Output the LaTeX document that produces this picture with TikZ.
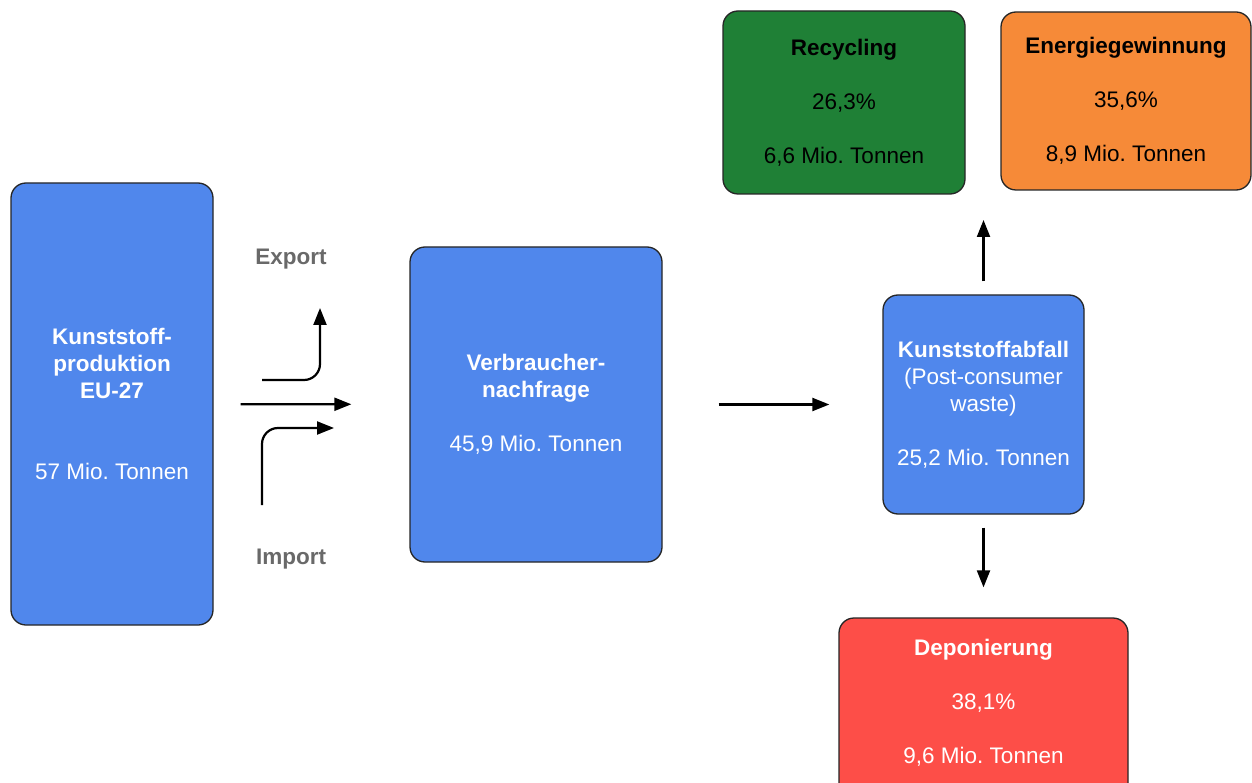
\documentclass[tikz,border=0pt]{standalone}
\usepackage{fontspec}
\setmainfont{Liberation Sans}
\usetikzlibrary{arrows.meta}

\definecolor{prodblue}{RGB}{80,135,236}
\definecolor{recgreen}{RGB}{31,128,54}
\definecolor{energyorange}{RGB}{246,138,56}
\definecolor{landfillred}{RGB}{253,78,72}
\definecolor{labelgray}{RGB}{105,105,105}

\begin{document}
\begin{tikzpicture}[x=1pt,y=-1pt,
  box/.style={draw=black!85, line width=1.3pt, rounded corners=15pt, align=center,
    inner sep=0pt, font=\fontsize{22.5}{27}\selectfont\frenchspacing},
  flow/.style={draw=black, line width=2.2pt, -{Triangle[length=17pt,width=13pt]}},
  tag/.style={text=labelgray, font=\fontsize{22.5}{27}\selectfont\bfseries}]

%frame
\path[use as bounding box, fill=white] (0,0) rectangle (1252,783);

%boxes
\node[box, fill=prodblue, text=white, minimum width=202, minimum height=442] (prod) at (112,404)
  {\textbf{Kunststoff-}\\\textbf{produktion}\\\textbf{EU-27}\\[54pt]57 Mio. Tonnen};
\node[box, fill=prodblue, text=white, minimum width=252, minimum height=315] (verbr) at (536,404.5)
  {\textbf{Verbraucher-}\\\textbf{nachfrage}\\[27pt]45,9 Mio. Tonnen};
\node[box, fill=prodblue, text=white, minimum width=201, minimum height=219] (abfall) at (983.5,404.5)
  {\textbf{Kunststoffabfall}\\(Post-consumer\\waste)\\[27pt]25,2 Mio. Tonnen};
\node[box, fill=recgreen, text=black, minimum width=242, minimum height=183] (recycling) at (844,102.5)
  {\textbf{Recycling}\\[27pt]26,3\%\\[27pt]6,6 Mio. Tonnen};
\node[box, fill=energyorange, text=black, minimum width=250, minimum height=178] (energie) at (1126,101)
  {\textbf{Energiegewinnung}\\[27pt]35,6\%\\[27pt]8,9 Mio. Tonnen};
% runs off the bottom edge
\node[box, fill=landfillred, text=white, minimum width=289, minimum height=182] (depon) at (983.5,709)
  {\textbf{Deponierung}\\[27pt]38,1\%\\[27pt]9,6 Mio. Tonnen\\[-12pt]\mbox{}};

%export / import
\node[tag] (exportlabel) at (291,259) {Export};
\node[tag] (importlabel) at (291,559) {Import};
\coordinate (exportstart) at (262,380);
\coordinate (exportend) at (320,308);
\coordinate (importstart) at (262,505);
\coordinate (importend) at (334,428);
\draw[flow, rounded corners=16pt] (exportstart) -| (exportend);
\draw[flow, rounded corners=16pt] (importstart) |- (importend);

%flows
\draw[flow, shorten <=27pt, shorten >=58pt] (prod) -- (verbr);
\draw[flow, shorten <=56pt, shorten >=53pt] (verbr) -- (abfall);
\coordinate (split) at (983.5,220);
\draw[flow, shorten <=13pt] (abfall.north) -- (split);
\draw[flow, shorten <=13pt, shorten >=30pt] (abfall.south) -- (depon.north);

\end{tikzpicture}
\end{document}
